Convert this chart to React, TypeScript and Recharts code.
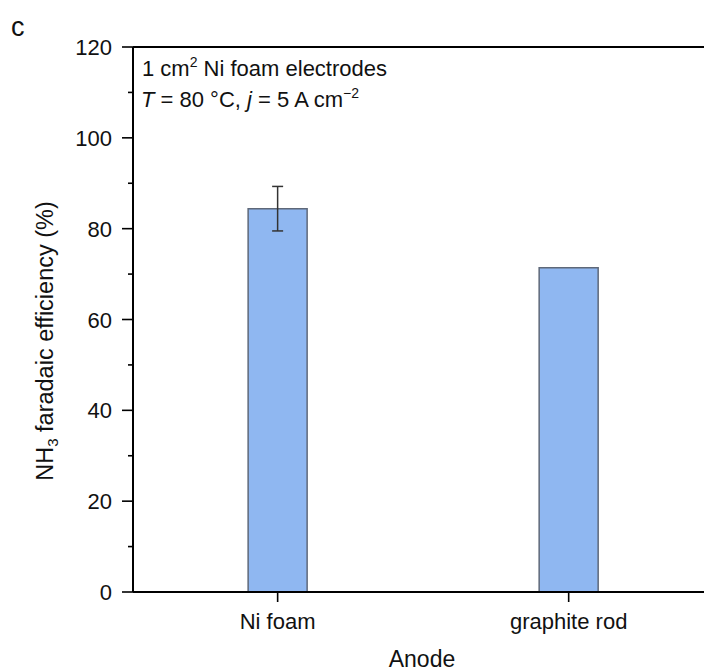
import React from 'react';
import { BarChart, Bar, XAxis, YAxis, ErrorBar, ReferenceLine, Customized } from 'recharts';

const anodes = ['Ni foam', 'graphite rod'];
const efficiency = [84.4, 71.4];
const efficiencyErr: (number | null)[] = [4.9, null];
const yTicks = [0, 10, 20, 30, 40, 50, 60, 70, 80, 90, 100, 110, 120];

const data = anodes.map((name, i) => ({
  pos: i + 1,
  name,
  fe: efficiency[i],
  err: efficiencyErr[i],
}));

const FONT = '"Liberation Sans", Arial, sans-serif';
const PLOT_LEFT = 133;
const PLOT_BOTTOM = 592;

function YTick(props: any) {
  const { y, payload } = props;
  const major = payload.value % 20 === 0;
  return (
    <g>
      <line x1={PLOT_LEFT - (major ? 11 : 5)} x2={PLOT_LEFT} y1={y} y2={y} stroke="#000" strokeWidth={1.6} />
      {major && (
        <text x={112} y={y + 8} textAnchor="end" fontSize={22} fontFamily={FONT} fill="#111">
          {payload.value}
        </text>
      )}
    </g>
  );
}

function XTick(props: any) {
  const { x, payload } = props;
  const label = anodes[Math.round(payload.value) - 1];
  return (
    <g>
      <line x1={x} x2={x} y1={PLOT_BOTTOM} y2={PLOT_BOTTOM + 10} stroke="#000" strokeWidth={1.6} />
      <text x={x} y={629} textAnchor="middle" fontSize={22} fontFamily={FONT} fill="#111">
        {label}
      </text>
    </g>
  );
}

function Annotations() {
  return (
    <g fontFamily={FONT} fill="#111">
      <text x={11} y={36} fontSize={27}>c</text>
      <text x={142} y={76} fontSize={22}>
        1 cm<tspan fontSize={14} dy={-9}>2</tspan>
        <tspan dy={9}> Ni foam electrodes</tspan>
      </text>
      <text x={141} y={107} fontSize={22}>
        <tspan fontStyle="italic">T</tspan> = 80 °C, <tspan fontStyle="italic">j</tspan> = 5 A cm
        <tspan fontSize={14} dy={-9}>−2</tspan>
      </text>
      <text transform="translate(53,341) rotate(-90)" textAnchor="middle" fontSize={23.5}>
        NH<tspan fontSize={15} dy={5}>3</tspan>
        <tspan dy={-5}> faradaic efficiency (%)</tspan>
      </text>
      <text x={422} y={667} textAnchor="middle" fontSize={23}>Anode</text>
    </g>
  );
}

export default function App() {
  return (
    <div style={{ position: 'absolute', left: 0, top: 0, width: 705, height: 671, background: '#fff' }}>
      <BarChart width={705} height={671} data={data} margin={{ top: 47, right: 1, bottom: 0, left: 0 }} barSize={59}>
        <XAxis
          dataKey="pos"
          type="number"
          domain={[0.503, 2.465]}
          ticks={[1, 2]}
          allowDataOverflow
          height={79}
          axisLine={{ stroke: '#000', strokeWidth: 2 }}
          tickLine={false}
          tick={<XTick />}
        />
        <YAxis
          type="number"
          domain={[0, 120]}
          ticks={yTicks}
          interval={0}
          allowDataOverflow
          width={133}
          axisLine={{ stroke: '#000', strokeWidth: 2 }}
          tickLine={false}
          tick={<YTick />}
        />
        <ReferenceLine y={120} stroke="#000" strokeWidth={2} />
        <Bar dataKey="fe" fill="#8FB7F1" stroke="#5E6879" strokeWidth={1.5} isAnimationActive={false}>
          <ErrorBar dataKey="err" width={5.5} stroke="#333" strokeWidth={1.5} direction="y" />
        </Bar>
        <Customized component={Annotations} />
      </BarChart>
    </div>
  );
}
